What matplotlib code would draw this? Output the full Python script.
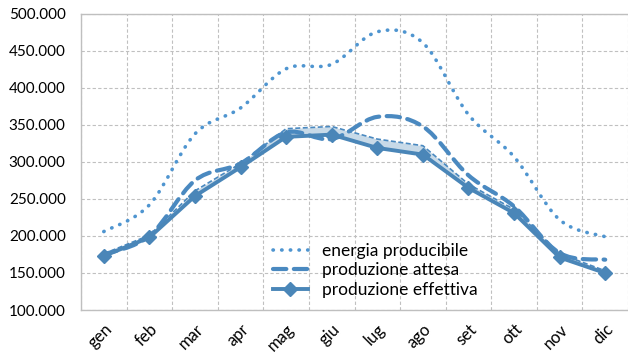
import numpy as np
import matplotlib
matplotlib.use("Agg")
import matplotlib.pyplot as plt
from matplotlib.path import Path
from matplotlib.patches import PathPatch
from matplotlib.lines import Line2D
from matplotlib.ticker import FuncFormatter

plt.rcParams['font.family'] = ['Lato', 'DejaVu Sans']

mesi = ['gen', 'feb', 'mar', 'apr', 'mag', 'giu',
        'lug', 'ago', 'set', 'ott', 'nov', 'dic']

energia_producibile = [206000, 242000, 338000, 373000, 426000, 432000,
                       476000, 461000, 364000, 307000, 222000, 199000]
produzione_attesa = [175000, 200000, 275000, 298000, 340000, 331000,
                     361000, 348000, 282000, 240000, 177000, 168000]
produzione_stimata = [176000, 201000, 261000, 298000, 345000, 348000,
                      331000, 322000, 270000, 236000, 176000, 153000]
produzione_effettiva = [173000, 198000, 254000, 293000, 334000, 337000,
                        319000, 310000, 265000, 231000, 171000, 150000]

c_dot = '#4f95d0'
c_dash = '#4a89c0'
c_solid = '#4a86b8'
c_band = '#c8dae8'


def smooth_path(xs, ys):
    # Bezier curve through the points (Catmull-Rom style control points)
    xs = np.asarray(xs, float)
    ys = np.asarray(ys, float)
    pts = np.column_stack([xs, ys])
    n = len(pts)
    verts = [pts[0]]
    codes = [Path.MOVETO]
    for i in range(n - 1):
        p0 = pts[i - 1] if i > 0 else pts[i]
        p1 = pts[i]
        p2 = pts[i + 1]
        p3 = pts[i + 2] if i + 2 < n else pts[i + 1]
        c1 = p1 + (p2 - p0) / 6.0
        c2 = p2 - (p3 - p1) / 6.0
        verts += [c1, c2, p2]
        codes += [Path.CURVE4] * 3
    return Path(verts, codes)


fig = plt.figure(figsize=(6.28, 3.54), dpi=100)
ax = fig.add_axes([81 / 628, 44 / 354, 547 / 628, 296 / 354])

x = np.arange(len(mesi))

ax.fill_between(x, produzione_effettiva, produzione_stimata,
                color=c_band, lw=0, zorder=2)
ax.plot(x, produzione_stimata, color=c_dash, lw=1.2,
        dashes=(3, 1.5), zorder=3)

ax.add_patch(PathPatch(smooth_path(x, energia_producibile), fill=False,
                       edgecolor=c_dot, lw=2.6, linestyle=(0, (0.1, 2.3)),
                       capstyle='round', zorder=4))
ax.add_patch(PathPatch(smooth_path(x, produzione_attesa), fill=False,
                       edgecolor=c_dash, lw=3.0, linestyle=(0, (3.2, 1.8)),
                       capstyle='round', zorder=4))
ax.plot(x, produzione_effettiva, color=c_solid, lw=2.8, marker='D',
        markersize=7, zorder=5)

ax.set_xlim(-0.5, 11.5)
ax.set_ylim(100000, 500000)
ax.set_yticks(np.arange(100000, 500001, 50000))
ax.yaxis.set_major_formatter(FuncFormatter(lambda v, p: f'{v:,.0f}'.replace(',', '.')))
ax.set_xticks(x)
ax.set_xticklabels(mesi, rotation=45, ha='right', va='top', rotation_mode='anchor')
ax.set_xticks(np.arange(-0.5, 12, 1), minor=True)

ax.tick_params(axis='both', length=0, colors='black')
ax.tick_params(axis='y', labelsize=11, pad=11)
ax.tick_params(axis='x', labelsize=12, pad=8)
ax.tick_params(axis='x', which='minor', length=0)

ax.grid(axis='y', which='major', color='#c0c0c0', linestyle=(0, (3, 2)), lw=0.8)
ax.grid(axis='x', which='minor', color='#c0c0c0', linestyle=(0, (3, 2)), lw=0.8)
ax.set_axisbelow(True)
for s in ['top', 'left', 'bottom']:
    ax.spines[s].set_color('#bfbfbf')
    ax.spines[s].set_linewidth(1.0)
ax.spines['right'].set_visible(False)

handles = [
    Line2D([], [], color=c_dot, lw=2.6, linestyle=(0, (0.1, 2.3)),
           solid_capstyle='round', dash_capstyle='round'),
    Line2D([], [], color=c_dash, lw=3.0, linestyle=(0, (3.2, 1.8)),
           dash_capstyle='round'),
    Line2D([], [], color=c_solid, lw=2.8, marker='D', markersize=7),
]
ax.legend(handles, ['energia producibile', 'produzione attesa', 'produzione effettiva'],
          loc='upper left', bbox_to_anchor=(0.338, 0.25), frameon=False,
          fontsize=12.5, handlelength=2.0, handletextpad=0.85, labelspacing=0.2,
          borderaxespad=0)

fig.savefig('out.png', dpi=100)
